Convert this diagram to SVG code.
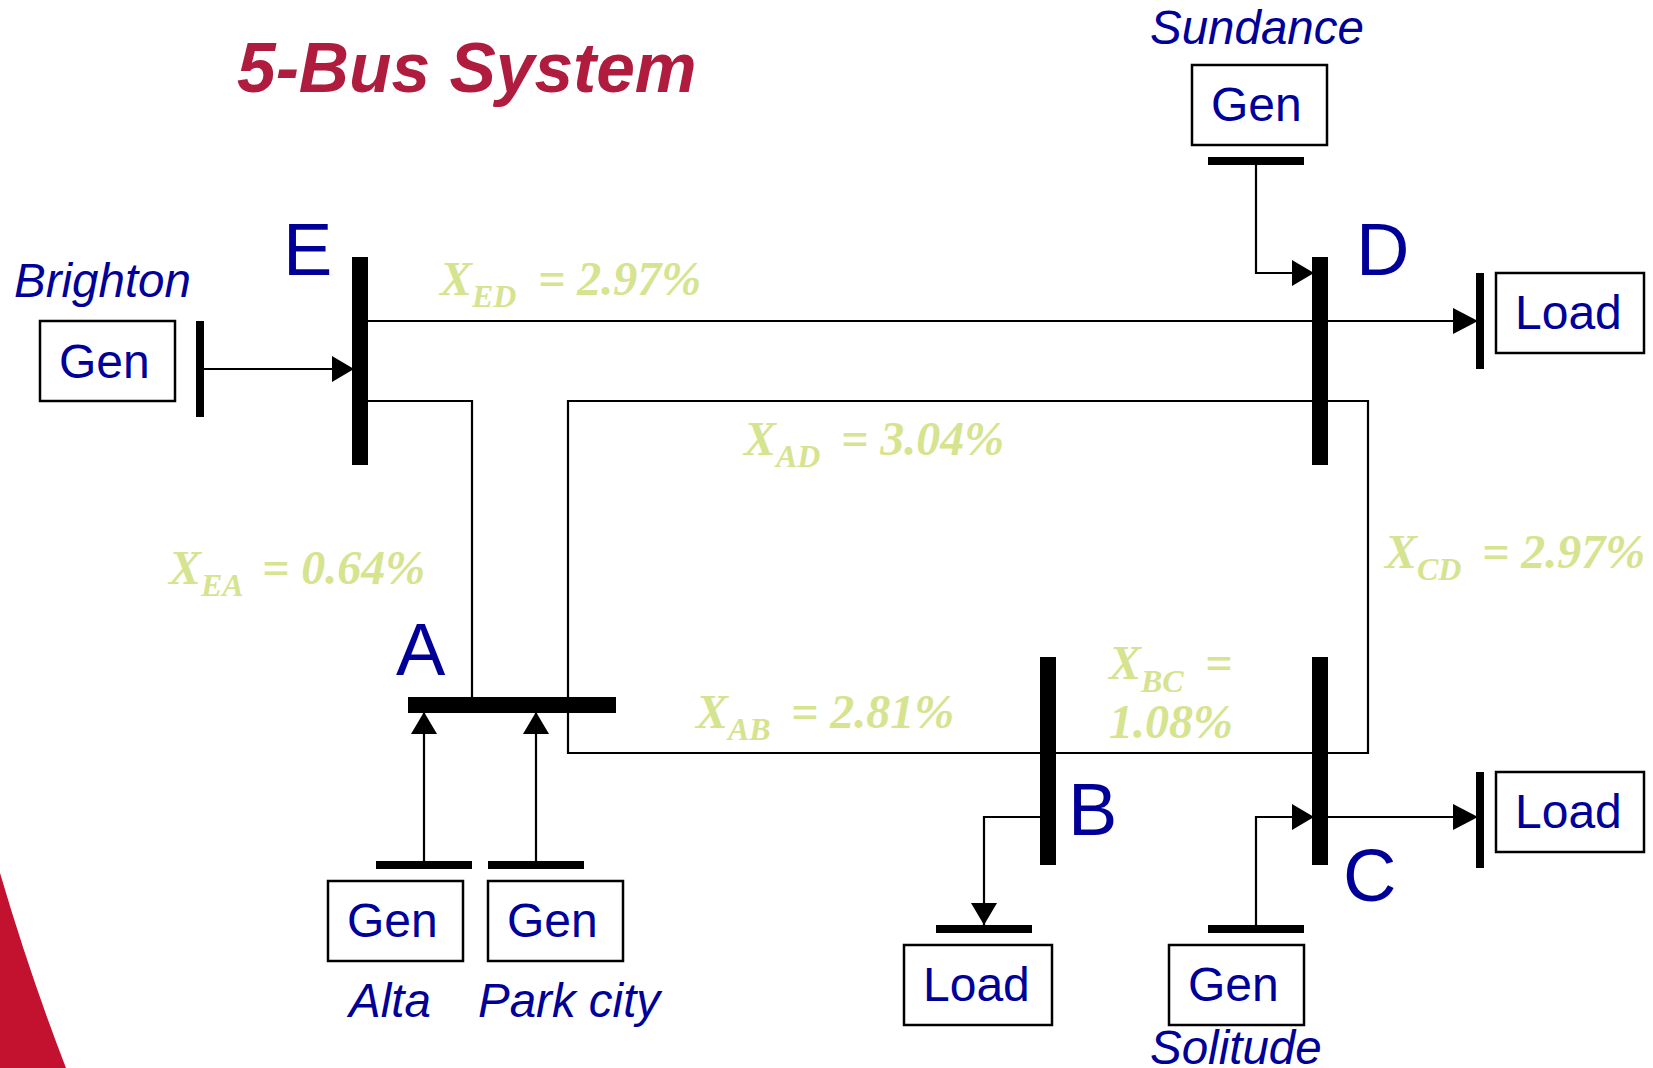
<svg xmlns="http://www.w3.org/2000/svg" width="1653" height="1068" viewBox="0 0 1653 1068">
<style>
.box{fill:#fff;stroke:#000;stroke-width:2.5}
.bar{fill:#000}
.wire{fill:none;stroke:#000;stroke-width:2.2}
.arr{marker-end:url(#ah)}
.arl{marker-end:url(#al)}
text{font-family:"Liberation Sans",Arial,sans-serif;fill:#000099}
.t{font-size:48px}
.n{font-size:47.5px;font-style:italic}
.bus{font-size:74px}
.x{font-family:"Liberation Serif","Times New Roman",serif;font-weight:bold;font-style:italic;font-size:48px;fill:#D6E38F}
.s{font-size:32px}
</style>
<defs>
<marker id="ah" markerUnits="userSpaceOnUse" viewBox="0 0 22 26" markerWidth="22" markerHeight="26" refX="22" refY="13" orient="auto"><path d="M0 0L22 13L0 26Z" fill="#000"/></marker>
<marker id="al" markerUnits="userSpaceOnUse" viewBox="0 0 25 26" markerWidth="25" markerHeight="26" refX="25" refY="13" orient="auto"><path d="M0 0L25 13L0 26Z" fill="#000"/></marker>
</defs>
<rect width="1653" height="1068" fill="#fff"/>
<path id="corner" d="M0 873Q30 975 66 1068L0 1068Z" fill="#C3122F"/>
<text id="title" x="237" y="92" font-size="69.5" font-weight="bold" font-style="italic" style="fill:#B01C3E">5-Bus System</text>

<g id="connectors">
<path class="wire" d="M368 321H1312"/>
<path class="wire arl" d="M1328 321H1478"/>
<path class="wire arr" d="M204 369H354"/>
<path class="wire" d="M368 401H472V697"/>
<path class="wire" d="M568 697V401H1368V753H568V713"/>
<path class="wire arr" d="M1256 165V273H1314"/>
<path class="wire arr" d="M424 861V712"/>
<path class="wire arr" d="M536 861V712"/>
<path class="wire arr" d="M1040 817H984V925"/>
<path class="wire arr" d="M1256 925V817H1314"/>
<path class="wire arl" d="M1328 817H1478"/>
</g>

<g id="bus-E"><rect class="bar" x="352" y="257" width="16" height="208"/><text class="bus" x="283" y="275">E</text></g>
<g id="bus-D"><rect class="bar" x="1312" y="257" width="16" height="208"/><text class="bus" x="1356" y="275">D</text></g>
<g id="bus-A"><rect class="bar" x="408" y="697" width="208" height="16"/><text class="bus" x="396" y="675">A</text></g>
<g id="bus-B"><rect class="bar" x="1040" y="657" width="16" height="208"/><text class="bus" x="1068" y="835">B</text></g>
<g id="bus-C"><rect class="bar" x="1312" y="657" width="16" height="208"/><text class="bus" x="1343" y="901">C</text></g>

<g id="gen-brighton"><text class="n" x="14" y="297">Brighton</text><rect class="box" x="40" y="321" width="135" height="80"/><text class="t" x="59" y="378">Gen</text><rect class="bar" x="196" y="321" width="8" height="96"/></g>
<g id="gen-sundance"><text class="n" x="1150" y="44">Sundance</text><rect class="box" x="1192" y="65" width="135" height="80"/><text class="t" x="1211" y="121">Gen</text><rect class="bar" x="1208" y="157" width="96" height="8"/></g>
<g id="gen-alta"><rect class="bar" x="376" y="861" width="96" height="8"/><rect class="box" x="328" y="881" width="135" height="80"/><text class="t" x="347" y="937">Gen</text><text class="n" x="349" y="1017">Alta</text></g>
<g id="gen-parkcity"><rect class="bar" x="488" y="861" width="96" height="8"/><rect class="box" x="488" y="881" width="135" height="80"/><text class="t" x="507" y="937">Gen</text><text class="n" x="478" y="1017">Park city</text></g>
<g id="gen-solitude"><rect class="bar" x="1208" y="925" width="96" height="8"/><rect class="box" x="1169" y="945" width="135" height="80"/><text class="t" x="1188" y="1001">Gen</text><text class="n" x="1150" y="1064">Solitude</text></g>

<g id="load-D"><rect class="bar" x="1476" y="273" width="8" height="96"/><rect class="box" x="1496" y="273" width="148" height="80"/><text class="t" x="1515" y="329">Load</text></g>
<g id="load-C"><rect class="bar" x="1476" y="772" width="8" height="96"/><rect class="box" x="1496" y="772" width="148" height="80"/><text class="t" x="1515" y="828">Load</text></g>
<g id="load-B"><rect class="bar" x="936" y="925" width="96" height="8"/><rect class="box" x="904" y="945" width="148" height="80"/><text class="t" x="923" y="1001">Load</text></g>

<g id="labels">
<text class="x" x="440" y="295">X<tspan class="s" dy="12">ED</tspan><tspan dy="-12" x="538">= 2.97%</tspan></text>
<text class="x" x="744" y="455">X<tspan class="s" dy="12">AD</tspan><tspan dy="-12" x="841">= 3.04%</tspan></text>
<text class="x" x="169" y="584">X<tspan class="s" dy="12">EA</tspan><tspan dy="-12" x="262">= 0.64%</tspan></text>
<text class="x" x="696" y="728">X<tspan class="s" dy="12">AB</tspan><tspan dy="-12" x="791">= 2.81%</tspan></text>
<text class="x" x="1385" y="568">X<tspan class="s" dy="12">CD</tspan><tspan dy="-12" x="1482">= 2.97%</tspan></text>
<text class="x" x="1109" y="679">X<tspan class="s" dy="13">BC</tspan><tspan dy="-13" x="1205">=</tspan></text>
<text class="x" x="1109" y="738">1.08%</text>
</g>
</svg>
